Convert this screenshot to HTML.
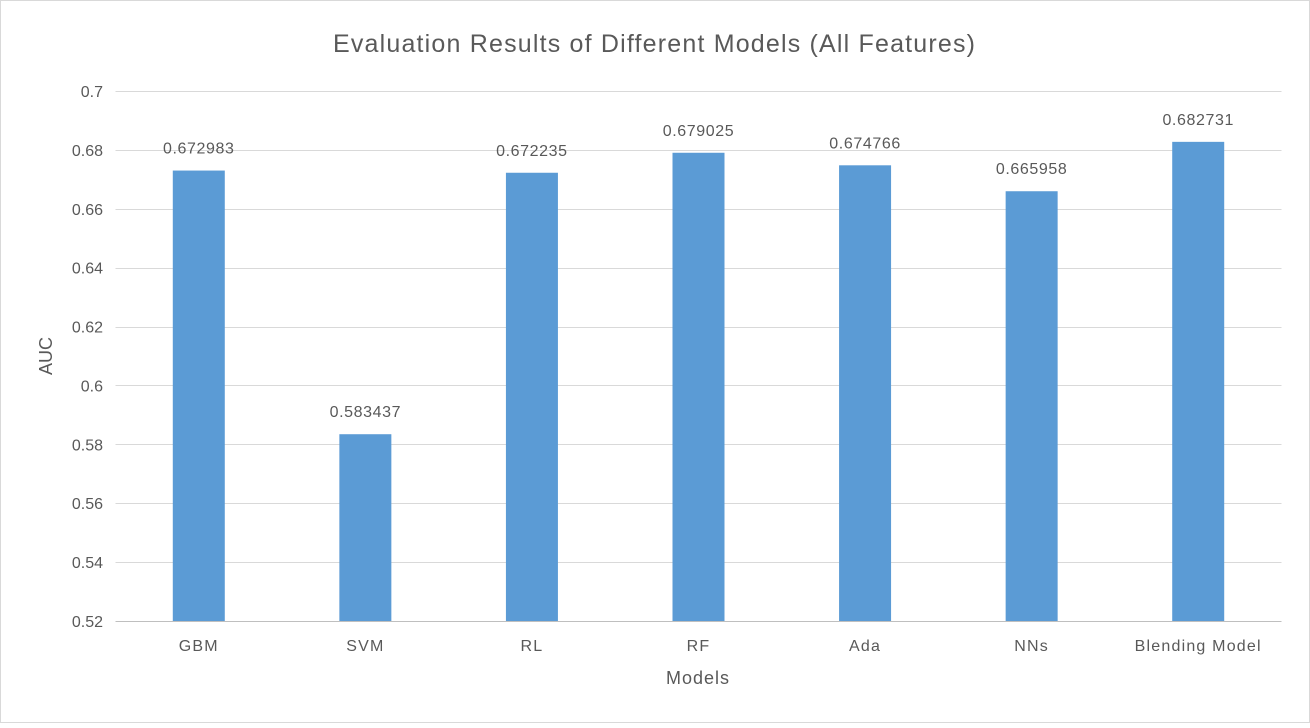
<!DOCTYPE html>
<html><head><meta charset="utf-8"><style>
html,body{margin:0;padding:0;background:#fff;}
svg text{font-family:"Liberation Sans","Noto Sans CJK SC",sans-serif;fill:#595959;}
</style></head><body>
<svg id="chart" width="1310" height="723" xmlns="http://www.w3.org/2000/svg">
<rect x="0.5" y="0.5" width="1309" height="722" fill="#fff" stroke="#d9d9d9"/>
<text x="654" y="52" font-size="25" text-anchor="middle" textLength="642" lengthAdjust="spacing">Evaluation Results of Different Models (All Features)</text>
<text transform="translate(52,356) rotate(-90)" font-size="18" text-anchor="middle">AUC</text>
<text x="698" y="684" font-size="18" text-anchor="middle" letter-spacing="1">Models</text>
<g id="grid"></g><g id="bars"></g><g id="labels"></g>
</svg>
<script>
const categories = ["GBM","SVM","RL","RF","Ada","NNs","Blending Model"];
const values = [0.672983,0.583437,0.672235,0.679025,0.674766,0.665958,0.682731];
const valueLabels = ["0.672983","0.583437","0.672235","0.679025","0.674766","0.665958","0.682731"];
const yTicks = [0.52,0.54,0.56,0.58,0.6,0.62,0.64,0.66,0.68,0.7];
const yTickLabels = ["0.52","0.54","0.56","0.58","0.6","0.62","0.64","0.66","0.68","0.7"];
const NS="http://www.w3.org/2000/svg";
const x0=115.5,x1=1281.5,yMin=0.52,yMax=0.7,pyB=621,pyT=91;
const y=v=>pyB-(v-yMin)/(yMax-yMin)*(pyB-pyT);
const band=(x1-x0)/categories.length;
const xc=i=>x0+band*(i+0.5);
const bw=52;
const grid=document.getElementById('grid'),bars=document.getElementById('bars'),labels=document.getElementById('labels');
yTicks.forEach((t,i)=>{
  const l=document.createElementNS(NS,'line');
  l.setAttribute('x1',x0);l.setAttribute('x2',x1);
  l.setAttribute('y1',Math.round(y(t))+0.5);l.setAttribute('y2',Math.round(y(t))+0.5);
  l.setAttribute('stroke',i===0?'#bfbfbf':'#d9d9d9');
  
  
  grid.appendChild(l);
  const tx=document.createElementNS(NS,'text');
  tx.setAttribute('x',103);tx.setAttribute('y',y(t)+6);
  tx.setAttribute('font-size','16');tx.setAttribute('text-anchor','end');
  tx.textContent=yTickLabels[i];
  
  
  grid.appendChild(tx);
});
categories.forEach((c,i)=>{
  const r=document.createElementNS(NS,'rect');
  r.setAttribute('x',xc(i)-bw/2);r.setAttribute('y',y(values[i]));
  r.setAttribute('width',bw);r.setAttribute('height',pyB-y(values[i]));
  r.setAttribute('fill','#5b9bd5');
  
  
  bars.appendChild(r);
  const v=document.createElementNS(NS,'text');
  v.setAttribute('x',xc(i));v.setAttribute('y',y(values[i])-17);
  v.setAttribute('font-size','16');v.setAttribute('text-anchor','middle');
  v.setAttribute('letter-spacing','0.6');
  v.textContent=valueLabels[i];
  
  
  labels.appendChild(v);
  const cl=document.createElementNS(NS,'text');
  cl.setAttribute('x',xc(i));cl.setAttribute('y',651);
  cl.setAttribute('font-size','16');cl.setAttribute('text-anchor','middle');
  cl.setAttribute('letter-spacing','1.2');
  cl.textContent=c;
  
  
  labels.appendChild(cl);
});
</script>
</body></html>
